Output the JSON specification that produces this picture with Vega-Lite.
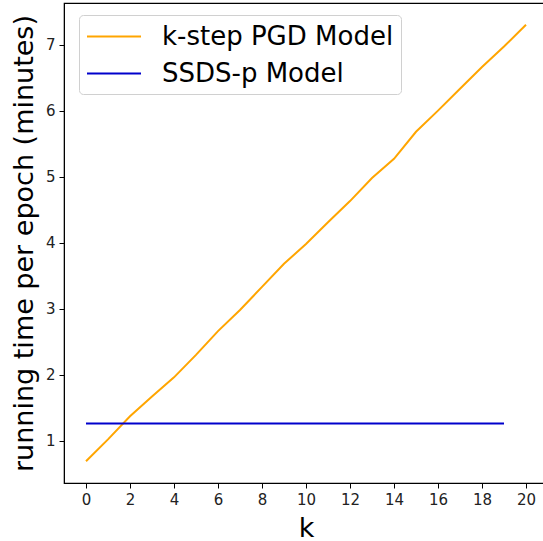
{
  "$schema": "https://vega.github.io/schema/vega-lite/v6.json",
  "autosize": {"type": "none"},
  "padding": {"left": 64, "top": 3, "right": 0, "bottom": 58},
  "width": 484,
  "height": 480,
  "background": "white",
  "config": {
    "font": "DejaVu Sans",
    "view": {"stroke": "black", "strokeWidth": 1.2},
    "axis": {
      "domainColor": "black", "tickColor": "black", "tickSize": 5, "tickWidth": 1,
      "labelColor": "#222222", "labelFontSize": 15, "labelFont": "DejaVu Sans",
      "titleFont": "DejaVu Sans", "titleFontSize": 27, "titleFontWeight": "normal", "titleColor": "black",
      "grid": false, "labelPadding": 4
    }
  },
  "data": {
    "values": [
      {"k": 0, "t": 0.69, "model": "k-step PGD Model"},
      {"k": 1, "t": 1.02, "model": "k-step PGD Model"},
      {"k": 2, "t": 1.37, "model": "k-step PGD Model"},
      {"k": 3, "t": 1.67, "model": "k-step PGD Model"},
      {"k": 4, "t": 1.96, "model": "k-step PGD Model"},
      {"k": 5, "t": 2.3, "model": "k-step PGD Model"},
      {"k": 6, "t": 2.66, "model": "k-step PGD Model"},
      {"k": 7, "t": 2.98, "model": "k-step PGD Model"},
      {"k": 8, "t": 3.33, "model": "k-step PGD Model"},
      {"k": 9, "t": 3.68, "model": "k-step PGD Model"},
      {"k": 10, "t": 3.98, "model": "k-step PGD Model"},
      {"k": 11, "t": 4.31, "model": "k-step PGD Model"},
      {"k": 12, "t": 4.63, "model": "k-step PGD Model"},
      {"k": 13, "t": 4.98, "model": "k-step PGD Model"},
      {"k": 14, "t": 5.27, "model": "k-step PGD Model"},
      {"k": 15, "t": 5.68, "model": "k-step PGD Model"},
      {"k": 16, "t": 6.0, "model": "k-step PGD Model"},
      {"k": 17, "t": 6.33, "model": "k-step PGD Model"},
      {"k": 18, "t": 6.66, "model": "k-step PGD Model"},
      {"k": 19, "t": 6.97, "model": "k-step PGD Model"},
      {"k": 20, "t": 7.3, "model": "k-step PGD Model"},
      {"k": 0, "t": 1.26, "model": "SSDS-p Model"},
      {"k": 19, "t": 1.26, "model": "SSDS-p Model"}
    ]
  },
  "mark": {"type": "line", "strokeWidth": 2},
  "encoding": {
    "x": {
      "field": "k", "type": "quantitative", "title": "k",
      "scale": {"domain": [-1, 21], "nice": false, "zero": false},
      "axis": {"values": [0, 2, 4, 6, 8, 10, 12, 14, 16, 18, 20], "titlePadding": 8}
    },
    "y": {
      "field": "t", "type": "quantitative", "title": "running time per epoch (minutes)",
      "scale": {"domain": [0.36, 7.63], "nice": false, "zero": false},
      "axis": {"values": [1, 2, 3, 4, 5, 6, 7], "titlePadding": 7}
    },
    "color": {
      "field": "model", "type": "nominal",
      "scale": {"domain": ["k-step PGD Model", "SSDS-p Model"], "range": ["#ffa500", "#0000cc"]},
      "legend": {
        "title": null, "orient": "none", "legendX": 15, "legendY": 12,
        "symbolType": "M-1,0H3", "symbolSize": 729, "symbolStrokeWidth": 2,
        "labelFontSize": 26, "labelFont": "DejaVu Sans", "labelColor": "black", "labelLimit": 600,
        "labelOffset": 47, "rowPadding": 9, "padding": 7,
        "strokeColor": "#d0d0d0", "fillColor": "white", "cornerRadius": 4
      }
    }
  }
}
